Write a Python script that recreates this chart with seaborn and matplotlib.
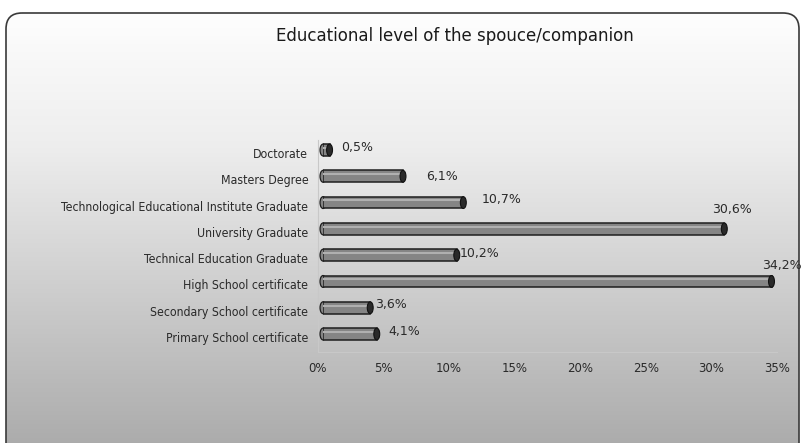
import numpy as np
import matplotlib
matplotlib.use("Agg")
import matplotlib.pyplot as plt
from matplotlib.patches import FancyBboxPatch, Ellipse
import seaborn as sns

categories = [
    "Doctorate",
    "Masters Degree",
    "Technological Educational Institute Graduate",
    "University Graduate",
    "Technical Education Graduate",
    "High School certificate",
    "Secondary School certificate",
    "Primary School certificate",
]
values = [0.5, 6.1, 10.7, 30.6, 10.2, 34.2, 3.6, 4.1]
value_labels = ["0,5%", "6,1%", "10,7%", "30,6%", "10,2%", "34,2%", "3,6%", "4,1%"]
x_ticks = [0, 5, 10, 15, 20, 25, 30, 35]
x_tick_labels = ["0%", "5%", "10%", "15%", "20%", "25%", "30%", "35%"]
title = "Educational level of the spouce/companion"

# label placement relative to each bar end (points)
label_offsets = [(8, 2), (17, 0), (13, 2), (-9, 14), (2, 1), (-6.5, 11.5), (3.5, 2), (8.5, 2)]

sns.set_theme(style="white")
plt.rcParams["font.family"] = ["DejaVu Sans"]

W, H = 804, 443
fig = plt.figure(figsize=(W / 100, H / 100), dpi=100)
fig.patch.set_facecolor("white")

# background panel with vertical gradient and rounded frame
bg = fig.add_axes([0, 0, 1, 1])
bg.set_xlim(0, W)
bg.set_ylim(H, 0)
bg.axis("off")
grad = np.linspace(0, 1, 256)[:, None]
top_c = np.array([0.995, 0.995, 0.995])
mid_c = np.array([0.93, 0.93, 0.93])
bot_c = np.array([0.66, 0.66, 0.66])
cols = np.where(grad[..., None] < 0.3,
                top_c + (mid_c - top_c) * (grad[..., None] / 0.3),
                mid_c + (bot_c - mid_c) * ((grad[..., None] - 0.3) / 0.7))
cols = np.repeat(cols, 2, axis=1)
frame = FancyBboxPatch((6, 13), 793, 460, boxstyle="round,pad=0,rounding_size=16",
                       facecolor="none", edgecolor="#3a3a3a", linewidth=1.2, zorder=3)
bg.add_patch(frame)
im = bg.imshow(cols, extent=[6, 799, 460, 13], aspect="auto", zorder=1)
im.set_clip_path(frame)

fig.text(455 / W, 1 - 36 / H, title, ha="center", va="center", fontsize=12, color="#1a1a1a")

# base axes: category labels, percent ticks, wall and floor lines
base = [318, 140, 777, 352]
ax = fig.add_axes([base[0] / W, 1 - base[3] / H, (base[2] - base[0]) / W, (base[3] - base[1]) / H])
ax.patch.set_alpha(0)

# bars sit on a slightly shifted layer to suggest depth
dx, dy = 5, 3
axb = fig.add_axes([(base[0] + dx) / W, 1 - (base[3] - dy) / H,
                    (base[2] - base[0]) / W, (base[3] - base[1]) / H])
axb.patch.set_alpha(0)

sns.barplot(x=values, y=categories, orient="h", color="#858585", edgecolor="#1e1e1e",
            linewidth=1.1, width=0.45, ax=axb, zorder=3)

sns.barplot(x=values, y=categories, orient="h", alpha=0, ax=ax)
for p in list(ax.patches):
    p.remove()

for a in (ax, axb):
    a.set_xlim(0, 35)
    a.set_ylim(7.57, -0.495)
    a.set_xlabel("")
    a.set_ylabel("")

axb.axis("off")

ax.set_xticks(x_ticks)
ax.set_xticklabels(x_tick_labels, fontsize=8.5, color="#2a2a2a")
ax.tick_params(axis="y", labelsize=8, labelcolor="#2a2a2a", length=0, pad=7)
for t in ax.get_yticklabels():
    t.set_fontstretch("condensed")
    t.set_fontsize(8.8)
ax.tick_params(axis="x", length=0, pad=7)
for s in ["top", "right"]:
    ax.spines[s].set_visible(False)
for s in ["left", "bottom"]:
    ax.spines[s].set_color("#c8c8c8")
    ax.spines[s].set_linewidth(0.8)

# cylinder shading and end caps
for bar in axb.patches:
    x0, y0 = bar.get_x(), bar.get_y()
    w, h = bar.get_width(), bar.get_height()
    axb.plot([x0, x0 + w], [y0 + h * 0.32, y0 + h * 0.32], color="#b0b0b0", lw=1.5, zorder=4,
             solid_capstyle="butt")
    axb.add_patch(Ellipse((x0 + w, y0 + h / 2), 0.45, h, facecolor="#2a2a2a",
                          edgecolor="#111", lw=0.8, zorder=5, clip_on=False))
    axb.add_patch(Ellipse((x0, y0 + h / 2), 0.45, h, facecolor="#858585",
                          edgecolor="#1e1e1e", lw=0.9, zorder=2, clip_on=False))

for i, (v, lab, off) in enumerate(zip(values, value_labels, label_offsets)):
    axb.annotate(lab, (v, i), xytext=off, textcoords="offset points", ha="left",
                 va="center", fontsize=9, color="#2a2a2a")

fig.savefig("out.png", dpi=100)
